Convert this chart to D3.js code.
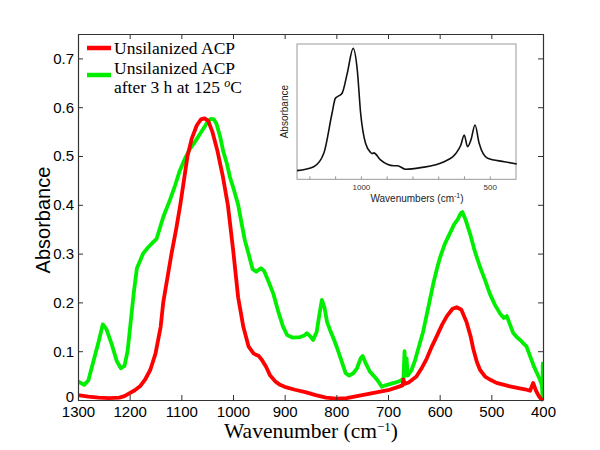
<!DOCTYPE html>
<html><head><meta charset="utf-8">
<script src="https://cdn.jsdelivr.net/npm/d3@7"></script>
<style>body{margin:0;background:#fff}</style>
</head><body><svg id="c" width="600" height="450"></svg>
<script>
// ---- data ----
const redWn  = [1300,1280,1260,1240,1220,1210,1200,1190,1180,1170,1160,1150,1140,1135,1127,1119,1110,1102,1095,1088,1080,1070,1062,1055,1048,1040,1030,1020,1010,1000,990,980,970,960,950,944,936,928,918,909,900,880,860,840,820,800,780,760,740,720,700,680,672,670,668,660,645,635,625,615,606,595,586,575,567,558,548,540,535,528,522,512,503,490,475,464,450,435,425,419,414,408,404,400];
const redAbs = [0.010,0.007,0.005,0.004,0.005,0.008,0.014,0.020,0.028,0.042,0.062,0.095,0.150,0.200,0.250,0.300,0.350,0.400,0.450,0.500,0.535,0.563,0.575,0.577,0.572,0.550,0.510,0.460,0.400,0.310,0.210,0.150,0.110,0.095,0.090,0.082,0.068,0.050,0.038,0.031,0.027,0.021,0.016,0.010,0.005,0.003,0.004,0.008,0.012,0.016,0.020,0.027,0.030,0.042,0.033,0.036,0.048,0.065,0.085,0.110,0.130,0.155,0.172,0.187,0.190,0.185,0.160,0.130,0.105,0.078,0.062,0.048,0.042,0.035,0.031,0.028,0.025,0.022,0.019,0.035,0.020,0.008,0.002,0.000];
const greenWn  = [1300,1295,1288,1280,1270,1260,1252,1245,1235,1225,1217,1210,1204,1198,1192,1186,1180,1174,1165,1155,1148,1141,1135,1122,1112,1103,1093,1083,1073,1064,1055,1048,1043,1037,1032,1025,1019,1012,1006,998,990,983,977,970,962,955,946,940,932,922,912,903,895,885,870,862,857,850,845,838,832,828,823,818,812,805,798,790,782,775,767,760,753,749,743,735,728,720,712,705,695,685,675,670,668,666,664,662,655,648,640,632,622,612,605,599,590,580,572,565,559,556,550,541,532,522,512,503,493,483,476,470,464,458,450,443,438,432,425,418,412,406,402,401,400.5,400];
const greenAbs = [0.038,0.035,0.031,0.040,0.080,0.120,0.155,0.145,0.115,0.080,0.065,0.070,0.100,0.160,0.220,0.270,0.285,0.300,0.312,0.323,0.330,0.354,0.375,0.410,0.440,0.470,0.495,0.515,0.530,0.545,0.560,0.572,0.576,0.575,0.566,0.540,0.510,0.485,0.457,0.430,0.400,0.360,0.327,0.300,0.268,0.263,0.270,0.265,0.245,0.218,0.180,0.150,0.133,0.128,0.129,0.132,0.137,0.130,0.123,0.140,0.180,0.205,0.190,0.160,0.143,0.125,0.105,0.080,0.055,0.050,0.055,0.065,0.085,0.090,0.075,0.058,0.050,0.040,0.027,0.030,0.033,0.036,0.040,0.045,0.100,0.050,0.085,0.050,0.060,0.080,0.110,0.140,0.190,0.240,0.270,0.293,0.320,0.342,0.360,0.370,0.383,0.385,0.370,0.340,0.305,0.273,0.245,0.218,0.195,0.177,0.168,0.172,0.155,0.138,0.128,0.122,0.116,0.110,0.090,0.070,0.056,0.042,0.030,0.004,0.070,0.078];
const insetWn  = [1250,1185,1146,1114,1101,1088,1075,1055,1032,1016,1003,984,964,958,952,926,874,860,828,770,679,633,614,601,588,575,559,543,510,445,397];
const insetAbs = [0.064,0.093,0.192,0.488,0.599,0.616,0.636,0.783,0.968,0.808,0.488,0.266,0.198,0.190,0.195,0.143,0.100,0.100,0.074,0.086,0.130,0.192,0.254,0.327,0.241,0.290,0.401,0.266,0.155,0.130,0.113];
const xTicks = [1300,1200,1100,1000,900,800,700,600,500,400];
const yTicks = [0,0.1,0.2,0.3,0.4,0.5,0.6,0.7];
const insetTicks = [1200,1100,1000,900,800,700,600,500];
const insetLabels = [1000,500];
const seriesNames = ["Unsilanized ACP", "Unsilanized ACP"];

// ---- layout ----
const svg = d3.select("#c");
const L=78, R=543, T=34, B=400;
const x = d3.scaleLinear().domain([1300,400]).range([L,R]);
const y = d3.scaleLinear().domain([0,0.75]).range([B,T]);
const axisCol="#333";

const line = d3.line().x(d=>x(d[0])).y(d=>y(d[1]));
svg.append("defs").append("clipPath").attr("id","pc").append("rect")
  .attr("x",L).attr("y",T).attr("width",R-L).attr("height",B-T+2);

const g = svg.append("g").attr("clip-path","url(#pc)");
g.append("path").datum(greenWn.map((w,i)=>[w,greenAbs[i]]))
  .attr("d",line).attr("fill","none").attr("stroke","#00ee00").attr("stroke-width",3.8).attr("stroke-linejoin","round");
g.append("path").datum(redWn.map((w,i)=>[w,redAbs[i]]))
  .attr("d",line).attr("fill","none").attr("stroke","#ff0000").attr("stroke-width",3.8).attr("stroke-linejoin","round");

// axes
const font="Liberation Sans, Arial, sans-serif";
const ax = svg.append("g").attr("transform",`translate(0,${B})`)
  .call(d3.axisBottom(x).tickValues(xTicks).tickSizeInner(-5).tickSizeOuter(0).tickPadding(6).tickFormat(d3.format("d")));
const axT = svg.append("g").attr("transform",`translate(0,${T})`)
  .call(d3.axisTop(x).tickValues(xTicks).tickSizeInner(-5).tickSizeOuter(0).tickFormat(""));
const ay = svg.append("g").attr("transform",`translate(${L},0)`)
  .call(d3.axisLeft(y).tickValues(yTicks).tickSizeInner(-5).tickSizeOuter(0).tickPadding(4).tickFormat(d=>d===0?"0":d3.format(".1f")(d)));
const ayR = svg.append("g").attr("transform",`translate(${R},0)`)
  .call(d3.axisRight(y).tickValues(yTicks).tickSizeInner(-5).tickSizeOuter(0).tickFormat(""));
[ax,axT,ay,ayR].forEach(a=>{
  a.selectAll("path").attr("stroke",axisCol).attr("stroke-width",1.2);
  a.selectAll("line").attr("stroke",axisCol).attr("stroke-width",1);
  a.selectAll("text").attr("font-family",font).attr("font-size",15).attr("fill","#000");
});
ay.selectAll(".tick text").filter(d=>d===0).attr("dy","0.1em");

svg.append("text").attr("transform",`translate(50,${(T+B)/2+3}) rotate(-90)`)
  .attr("text-anchor","middle").attr("font-family",font).attr("font-size",20).text("Absorbance");

const xl = svg.append("text").attr("x",311).attr("y",438).attr("text-anchor","middle")
  .attr("font-family","Liberation Serif, Times New Roman, serif").attr("font-size",21.5);
xl.append("tspan").text("Wavenumber (cm");
xl.append("tspan").attr("font-size",13).attr("dy",-7).text("−1");
xl.append("tspan").attr("dy",7).text(")");

// legend
const serif="Liberation Serif, Times New Roman, serif";
const lg = svg.append("g");
lg.append("line").attr("x1",87).attr("x2",111).attr("y1",48).attr("y2",48).attr("stroke","#ff0000").attr("stroke-width",4.5);
lg.append("line").attr("x1",87).attr("x2",111).attr("y1",75).attr("y2",75).attr("stroke","#00ee00").attr("stroke-width",4.5);
lg.append("text").attr("x",114).attr("y",54).attr("font-family",serif).attr("font-size",17.5).text(seriesNames[0]);
lg.append("text").attr("x",114).attr("y",73.5).attr("font-family",serif).attr("font-size",17.5).text(seriesNames[1]);
const t3 = lg.append("text").attr("x",114).attr("y",93).attr("font-family",serif).attr("font-size",17.5);
t3.append("tspan").text("after 3 h at 125 ");
t3.append("tspan").attr("font-style","italic").attr("font-size",12).attr("dy",-6).text("o");
t3.append("tspan").attr("dy",6).text("C");

// inset
const IL=297, IR=516, IT=44, IB=179.3;
const ix = d3.scaleLinear().domain([1250,400]).range([IL,IR]);
const iy = d3.scaleLinear().domain([0,1]).range([IB,IT]);
const ins = svg.append("g");
ins.append("rect").attr("x",IL).attr("y",IT).attr("width",IR-IL).attr("height",IB-IT)
  .attr("fill","#fff").attr("stroke","#999").attr("stroke-width",1);
ins.selectAll(".it").data(insetTicks).join("line")
  .attr("x1",d=>ix(d)).attr("x2",d=>ix(d)).attr("y1",IB).attr("y2",IB-3).attr("stroke","#999");
ins.selectAll(".il").data(insetLabels).join("text")
  .attr("x",d=>ix(d)).attr("y",IB+11).attr("text-anchor","middle")
  .attr("font-family",font).attr("font-size",8).attr("fill","#333").text(d=>d);
ins.append("path").datum(insetWn.map((w,i)=>[w,insetAbs[i]]))
  .attr("d",d3.line().x(d=>ix(d[0])).y(d=>iy(d[1])).curve(d3.curveMonotoneX))
  .attr("fill","none").attr("stroke","#111").attr("stroke-width",1.6);
const il = ins.append("text").attr("x",417).attr("y",202).attr("text-anchor","middle")
  .attr("font-family",font).attr("font-size",10).attr("fill","#222");
il.append("tspan").text("Wavenumbers (cm");
il.append("tspan").attr("font-size",7).attr("dy",-4).text("-1");
il.append("tspan").attr("dy",4).text(")");
ins.append("text").attr("transform",`translate(288,${(IT+IB)/2}) rotate(-90)`)
  .attr("text-anchor","middle").attr("font-family",font).attr("font-size",10).attr("fill","#222").text("Absorbance");
</script></body></html>
